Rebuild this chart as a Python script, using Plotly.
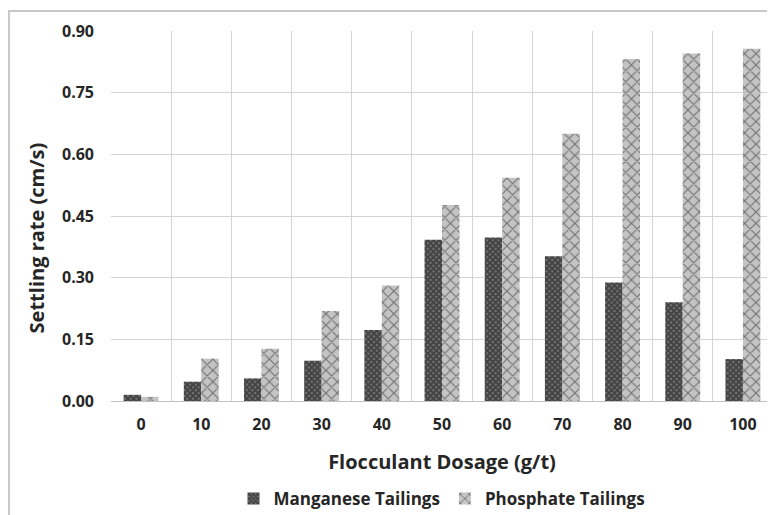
import plotly.graph_objects as go

dosage = ["0", "10", "20", "30", "40", "50", "60", "70", "80", "90", "100"]
manganese = [0.015, 0.047, 0.055, 0.098, 0.173, 0.392, 0.398, 0.352, 0.288, 0.240, 0.102]
phosphate = [0.010, 0.103, 0.127, 0.219, 0.281, 0.477, 0.543, 0.650, 0.832, 0.845, 0.857]

FONT = "Open Sans"

fig = go.Figure()
fig.add_trace(go.Bar(
    x=dosage, y=manganese, name="<b>Manganese Tailings</b>",
    marker=dict(color="#6a6a6a", line=dict(width=0),
                pattern=dict(shape="x", size=4, solidity=0.75,
                             fgcolor="#0a0a0a", bgcolor="#7a7a7a")),
))
fig.add_trace(go.Bar(
    x=dosage, y=phosphate, name="<b>Phosphate Tailings</b>",
    marker=dict(color="#c0c0c0", line=dict(width=0),
                pattern=dict(shape="x", size=8, solidity=0.25,
                             fgcolor="#1a1a1a", bgcolor="#c4c4c4")),
))

fig.update_layout(
    width=767, height=507,
    margin=dict(l=103, r=2, t=23, b=114, autoexpand=False),
    paper_bgcolor="white", plot_bgcolor="white",
    barmode="group", bargap=0.42, bargroupgap=0,
    font=dict(family=FONT, color="#333333"),
    showlegend=True,
    legend=dict(orientation="h", x=0.5, xanchor="center", y=-0.265, yanchor="middle",
                font=dict(family=FONT, size=17, color="#262626"),
                traceorder="normal", itemwidth=30),
    shapes=[dict(type="rect", xref="paper", yref="paper",
                 x0=-0.154, x1=1.2, y0=-0.5, y1=1.054,
                 line=dict(color="#c8c8c8", width=2), layer="below")],
    annotations=[dict(text="<b>Settling rate (cm/s)</b>", textangle=-90,
                      xref="paper", yref="paper", x=-0.113, y=0.44,
                      xanchor="center", yanchor="middle", showarrow=False,
                      font=dict(family=FONT, size=20, color="#262626"))],
)
fig.update_xaxes(
    type="category", tickson="boundaries", ticks="", automargin=False,
    showgrid=True, gridcolor="#d4d4d4", gridwidth=1,
    showline=True, linecolor="#c0c0c0", linewidth=1,
    ticklabelstandoff=9,
    tickfont=dict(family=FONT, size=16, color="#262626"),
    title=dict(text="<b>Flocculant Dosage (g/t)</b>", standoff=20,
               font=dict(family=FONT, size=20, color="#262626")),
    tickprefix="<b>", ticksuffix="</b>",
)
fig.update_yaxes(
    range=[0, 0.9], dtick=0.15, tick0=0, tickformat=".2f", automargin=False,
    showgrid=True, gridcolor="#d4d4d4", gridwidth=1,
    zeroline=False, ticks="", ticklabelstandoff=16,
    tickfont=dict(family=FONT, size=16, color="#262626"),
    tickprefix="<b>", ticksuffix="</b>",
)

fig.write_html("out.html")
